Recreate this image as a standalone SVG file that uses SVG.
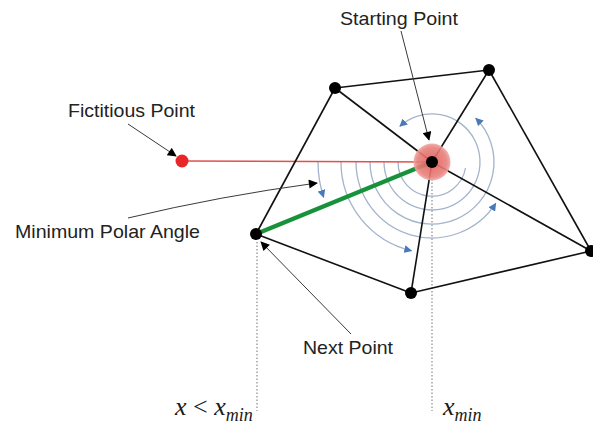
<svg xmlns="http://www.w3.org/2000/svg" width="593" height="425" viewBox="0 0 593 425">
  <defs>
    <style>
      .lbl { font-family: "Liberation Sans", Arial, sans-serif; font-size: 18.5px; fill: #222; }
      .math { font-family: "Liberation Serif", "Times New Roman", serif; font-size: 26px; fill: #1a1a1a; }
      .edge { stroke: #111; stroke-width: 1.6; fill: none; }
      .arc { stroke: #a3b4cc; stroke-width: 1.3; fill: none; }
      .arcA { stroke: #a3b4cc; stroke-width: 1.3; fill: none; marker-end: url(#blueHead); }
      .lead { stroke: #3a3a3a; stroke-width: 1; fill: none; marker-end: url(#blackHead); }
      .dot { fill: #000; }
      .guide { stroke: #8a8a8a; stroke-width: 1.2; stroke-dasharray: 1.5 2; fill: none; }
    </style>
    <marker id="blueHead" viewBox="0 0 10 10" refX="9" refY="5" markerWidth="8" markerHeight="8" markerUnits="userSpaceOnUse" orient="auto">
      <path d="M0,0 L10,5 L0,10 Z" fill="#4a78b8"/>
    </marker>
    <marker id="blackHead" viewBox="0 0 10 10" refX="9" refY="5" markerWidth="11" markerHeight="9" markerUnits="userSpaceOnUse" orient="auto">
      <path d="M0,0 L10,5 L0,10 Z" fill="#000"/>
    </marker>
    <radialGradient id="halo" cx="0.5" cy="0.5" r="0.5">
      <stop offset="0" stop-color="#e25a55"/>
      <stop offset="0.8" stop-color="#e8807b"/>
      <stop offset="1" stop-color="#f0a9a5"/>
    </radialGradient>
  </defs>
  <rect width="593" height="425" fill="#fff"/>

  <!-- guide lines -->
  <g id="guides">
    <line class="guide" x1="257" y1="242" x2="257" y2="411"/>
    <line class="guide" x1="432" y1="172" x2="432" y2="411"/>
  </g>

  <!-- angle sweep arcs -->
  <g id="sweep-arcs">
    <path class="arcA" d="M318,162 A114,114 0 0 0 323.6,197.2"/>
    <path class="arcA" d="M341,162 A91,91 0 0 0 411.5,250.7"/>
    <path class="arcA" d="M356,162 A76,76 0 0 0 495.7,203.4"/>
    <path class="arcA" d="M370,162 A62,62 0 1 0 475.8,118.2"/>
    <path class="arcA" d="M384,162 A48,48 0 1 0 399.9,126.3"/>
    <path class="arc" d="M398,162 A34,34 0 0 0 465.5,168"/>
  </g>

  <!-- connectors -->
  <g id="connectors">
    <line x1="182" y1="161" x2="432" y2="162" stroke="#e0504c" stroke-width="1.5"/>
    <line class="edge" x1="335" y1="88" x2="489" y2="70"/>
    <line class="edge" x1="489" y1="70" x2="591" y2="251"/>
    <line class="edge" x1="591" y1="251" x2="411" y2="293"/>
    <line class="edge" x1="411" y1="293" x2="256" y2="234"/>
    <line class="edge" x1="256" y1="234" x2="335" y2="88"/>
    <line class="edge" x1="432" y1="162" x2="335" y2="88"/>
    <line class="edge" x1="432" y1="162" x2="489" y2="70"/>
    <line class="edge" x1="432" y1="162" x2="591" y2="251"/>
    <line class="edge" x1="432" y1="162" x2="411" y2="293"/>
    <line x1="256" y1="234" x2="432" y2="162" stroke="#17923a" stroke-width="4.2"/>
    <!-- label leaders -->
    <path class="lead" d="M401,31 L429,140"/>
    <path class="lead" d="M128,124 L176,156"/>
    <path class="lead" d="M128,218 Q220,196 317,183"/>
    <path class="lead" d="M351,334 L261,242"/>
  </g>

  <!-- nodes -->
  <g id="starting-point">
    <circle cx="432" cy="162" r="18.5" fill="url(#halo)" opacity="0.9"/>
    <circle class="dot" cx="432" cy="162" r="6"/>
  </g>
  <g id="vertex-a"><circle class="dot" cx="335" cy="88" r="6"/></g>
  <g id="vertex-b"><circle class="dot" cx="489" cy="70" r="6"/></g>
  <g id="vertex-c"><circle class="dot" cx="591" cy="251" r="6"/></g>
  <g id="vertex-d"><circle class="dot" cx="411" cy="293" r="6"/></g>
  <g id="next-point"><circle class="dot" cx="256" cy="234" r="6"/></g>
  <g id="fictitious-point"><circle cx="182" cy="161" r="6.5" fill="#e8262a"/></g>

  <!-- labels -->
  <g id="labels">
    <text class="lbl" x="340" y="25" textLength="118" lengthAdjust="spacingAndGlyphs">Starting Point</text>
    <text class="lbl" x="68" y="117" textLength="127" lengthAdjust="spacingAndGlyphs">Fictitious Point</text>
    <text class="lbl" x="15" y="238" textLength="185" lengthAdjust="spacingAndGlyphs">Minimum Polar Angle</text>
    <text class="lbl" x="303" y="354" textLength="90" lengthAdjust="spacingAndGlyphs">Next Point</text>
    <text class="math" x="175" y="415"><tspan font-style="italic">x</tspan> &lt; <tspan font-style="italic">x</tspan><tspan font-style="italic" font-size="18" dy="6">min</tspan></text>
    <text class="math" x="443" y="415"><tspan font-style="italic">x</tspan><tspan font-style="italic" font-size="18" dy="6">min</tspan></text>
  </g>
</svg>
